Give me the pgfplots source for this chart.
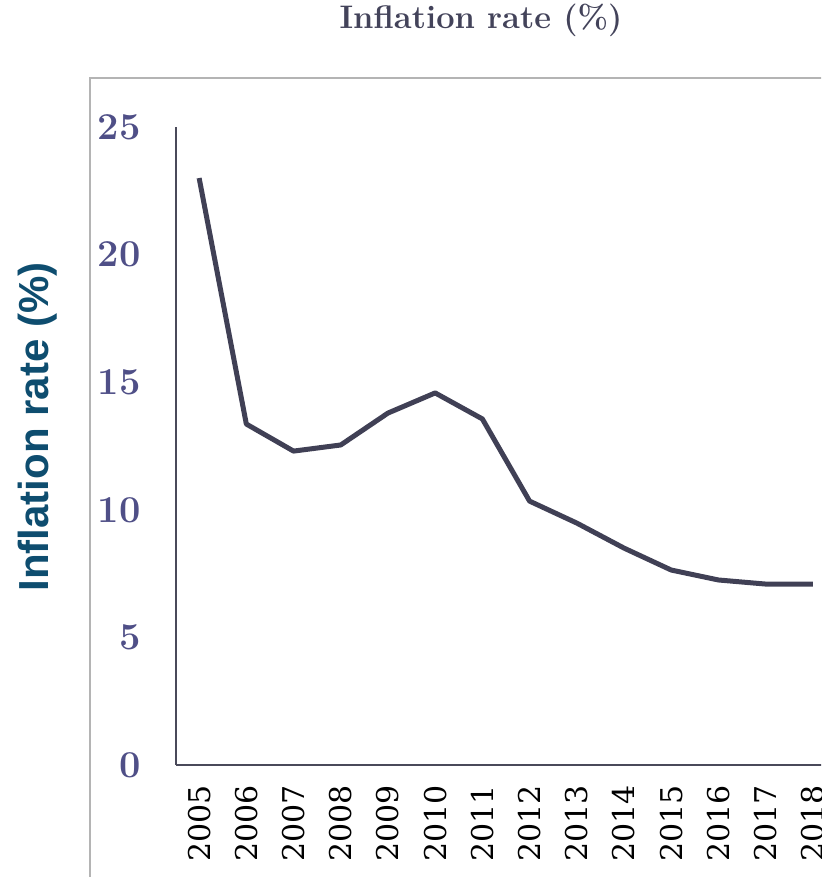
\documentclass[border=0pt]{standalone}
\usepackage{pgfplots}
\pgfplotsset{compat=1.18}
\usepackage{fontspec}
\newfontfamily\labelfont{Liberation Sans}
\newfontfamily\xfont{DejaVu Serif}
\definecolor{linec}{HTML}{404055}
\definecolor{tickc}{HTML}{4F4F87}
\definecolor{titlec}{HTML}{43435A}
\definecolor{ylabc}{HTML}{0E4D6F}
\definecolor{framec}{HTML}{B4B4B4}
\definecolor{axc}{HTML}{4A4A5A}
\begin{document}
\begin{tikzpicture}
\path[use as bounding box, clip] (0,0) rectangle (410.5pt,438.5pt);
\draw[framec, line width=1pt] (45pt,399.5pt) rectangle (520pt,-20pt);
\node[text=titlec, font=\fontsize{16.3}{16.3}\selectfont\bfseries] at (240.5pt,428.5pt) {Inflation rate (\%)};
\node[text=ylabc, rotate=90, font=\fontsize{21}{21}\selectfont\labelfont\bfseries] at (19pt,225pt) {Inflation rate (\%)};
\begin{axis}[
  at={(88pt,56pt)}, anchor=south west,
  scale only axis, width=330.2pt, height=319pt,
  xmin=2004.51, xmax=2018.5, ymin=0, ymax=25,
  axis x line=bottom, axis y line=left,
  axis line style={-, axc, line width=0.8pt},
  major tick length=0pt,
  xtick={2005,...,2018}, ytick={0,5,...,25},
  /pgf/number format/1000 sep={},
  /pgf/number format/assume math mode=true,
  xticklabel style={rotate=90, anchor=east, inner sep=0pt, font=\xfont\fontsize{15}{15}\selectfont, text=black},
  xticklabel shift=10pt,
  yticklabel style={anchor=east, inner sep=0pt, font=\fontsize{19}{19}\selectfont\bfseries, text=tickc},
  yticklabel shift=17.5pt,
  clip=false,
]
\addplot[linec, line width=2.5pt, line join=round] coordinates {
(2005,23.0) (2006,13.36) (2007,12.3) (2008,12.54) (2009,13.79) (2010,14.58)
(2011,13.56) (2012,10.34) (2013,9.48) (2014,8.5) (2015,7.64) (2016,7.25)
(2017,7.09) (2018,7.09)};
\end{axis}
\end{tikzpicture}
\end{document}
